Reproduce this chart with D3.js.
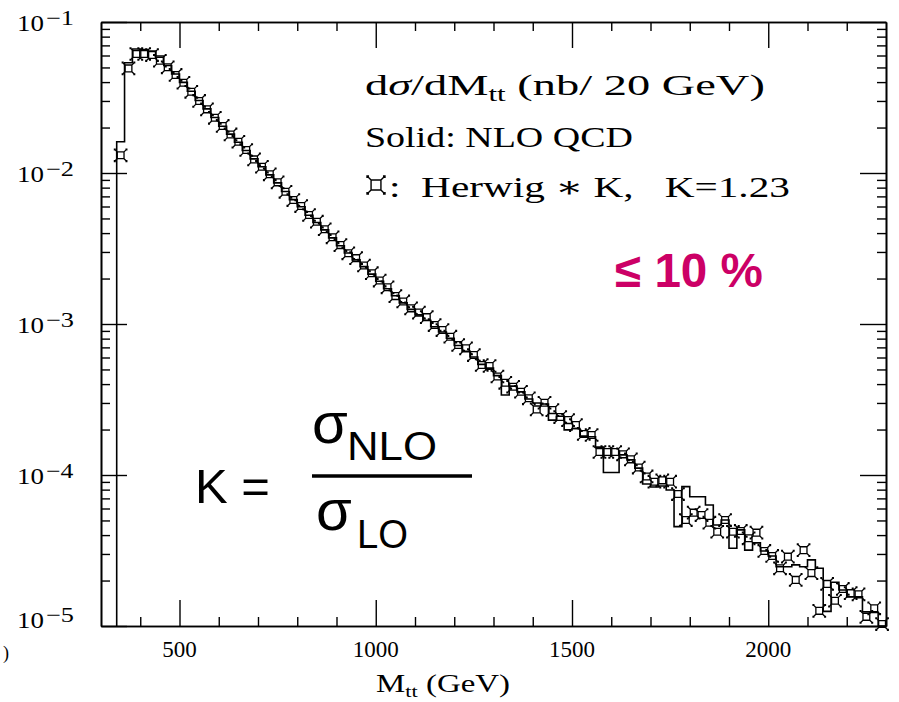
<!DOCTYPE html>
<html>
<head>
<meta charset="utf-8">
<script src="https://cdn.jsdelivr.net/npm/d3@7"></script>
<style>
  body { margin: 0; background: #fff; }
  svg { display: block; }
  .serif { font-family: "Liberation Serif", "DejaVu Serif", serif; fill: #000; }
  .sans { font-family: "Liberation Sans", Arial, sans-serif; }
</style>
</head>
<body>
<script>
// ---- data (dsigma/dM_tt in nb / 20 GeV, 20 GeV bins from 340 GeV) ----
var binStart = 340;
var binWidth = 20;

// histogram: NLO QCD (solid line)
var nloQCD = [
  1.61e-2, 5.37e-2, 6.62e-2, 6.58e-2, 6.43e-2, 5.96e-2, 5.15e-2, 4.52e-2, 3.98e-2, 3.48e-2,
  3.02e-2, 2.66e-2, 2.33e-2, 2.04e-2, 1.81e-2, 1.60e-2, 1.41e-2, 1.24e-2, 1.10e-2, 9.72e-3,
  8.60e-3, 7.55e-3, 6.66e-3, 5.98e-3, 5.25e-3, 4.70e-3, 4.20e-3, 3.72e-3, 3.30e-3, 2.95e-3,
  2.66e-3, 2.40e-3, 2.14e-3, 1.92e-3, 1.71e-3, 1.54e-3, 1.38e-3, 1.25e-3, 1.15e-3, 1.06e-3,
  9.60e-4, 8.85e-4, 8.05e-4, 7.20e-4, 6.60e-4, 6.05e-4, 5.40e-4, 5.10e-4, 4.55e-4, 3.39e-4,
  3.88e-4, 3.55e-4, 3.19e-4, 3.00e-4, 2.95e-4, 2.31e-4, 2.45e-4, 1.99e-4, 2.03e-4, 1.81e-4,
  1.79e-4, 1.53e-4, 1.04e-4, 1.04e-4, 1.36e-4, 1.26e-4, 1.11e-4, 8.71e-5, 8.32e-5, 8.45e-5,
  7.96e-5, 4.55e-5, 8.38e-5, 7.18e-5, 7.18e-5, 6.33e-5, 4.67e-5, 5.03e-5, 3.27e-5, 4.33e-5,
  3.18e-5, 3.55e-5, 3.14e-5, 2.91e-5, 2.47e-5, 2.47e-5, 2.54e-5, 2.47e-5, 2.74e-5, 2.41e-5,
  1.25e-5, 1.95e-5, 1.73e-5, 1.56e-5, 1.56e-5, 1.24e-5, 1.23e-5, 1.00e-5
];

// markers: Herwig * K
var herwigK = [
  1.31e-2, 4.93e-2, 6.14e-2, 6.14e-2, 6.04e-2, 5.54e-2, 5.01e-2, 4.46e-2, 3.96e-2, 3.45e-2,
  3.00e-2, 2.64e-2, 2.32e-2, 2.05e-2, 1.80e-2, 1.61e-2, 1.42e-2, 1.23e-2, 1.10e-2, 9.80e-3,
  8.67e-3, 7.51e-3, 6.62e-3, 6.04e-3, 5.27e-3, 4.76e-3, 4.24e-3, 3.75e-3, 3.33e-3, 2.94e-3,
  2.73e-3, 2.44e-3, 2.17e-3, 1.94e-3, 1.75e-3, 1.53e-3, 1.41e-3, 1.27e-3, 1.19e-3, 1.11e-3,
  9.84e-4, 9.12e-4, 8.24e-4, 7.26e-4, 6.90e-4, 6.23e-4, 5.35e-4, 5.27e-4, 4.49e-4, 4.08e-4,
  3.84e-4, 3.56e-4, 3.22e-4, 2.72e-4, 3.01e-4, 2.69e-4, 2.42e-4, 2.31e-4, 2.14e-4, 1.87e-4,
  1.84e-4, 1.42e-4, 1.42e-4, 1.42e-4, 1.37e-4, 1.27e-4, 1.12e-4, 9.78e-5, 9.03e-5, 9.22e-5,
  9.03e-5, 7.48e-5, 5.03e-5, 5.63e-5, 5.43e-5, 4.83e-5, 4.21e-5, 5.03e-5, 4.21e-5, 4.26e-5,
  3.81e-5, 4.15e-5, 3.14e-5, 2.91e-5, 2.41e-5, 2.88e-5, 2.02e-5, 3.18e-5, 2.24e-5, 1.26e-5,
  1.90e-5, 1.47e-5, 1.76e-5, 1.65e-5, 1.62e-5, 1.15e-5, 1.31e-5, 1.03e-5
];

var xMajorTicks = [500, 1000, 1500, 2000];
var yExponents = [-5, -4, -3, -2, -1];

// ---- layout ----
var svgWidth = 899;
var svgHeight = 702;
var plot = { left: 101, right: 886, top: 22, bottom: 626 };

var svg = d3.select("body").append("svg")
  .attr("width", svgWidth)
  .attr("height", svgHeight);

svg.append("rect").attr("width", svgWidth).attr("height", svgHeight).attr("fill", "#fff");

var x = d3.scaleLinear().domain([300, 2300]).range([plot.left, plot.right]);
var y = d3.scaleLog().domain([1e-5, 1e-1]).range([plot.bottom, plot.top]);

// tick values
var xMinorTicks = d3.range(400, 2300, 100).filter(d => d % 500 !== 0);
var yMajorTicks = yExponents.map(e => Math.pow(10, e));
var yMinorTicks = [];
yMajorTicks.slice(0, 4).forEach(function(d) {
  for (var m = 2; m <= 9; m++) yMinorTicks.push(m * d);
});

function styleAxis(g) {
  g.select(".domain").attr("stroke", "#000").attr("stroke-width", 1.6);
  g.selectAll(".tick line").attr("stroke", "#000").attr("stroke-width", 1.4);
  g.selectAll(".tick text").remove();
}

// bottom / top axes (ticks point inwards)
[[d3.axisBottom, plot.bottom], [d3.axisTop, plot.top]].forEach(function(a) {
  svg.append("g").attr("transform", `translate(0,${a[1]})`)
    .call(a[0](x).tickValues(xMajorTicks).tickSize(-26).tickSizeOuter(0).tickFormat(""))
    .call(styleAxis);
  svg.append("g").attr("transform", `translate(0,${a[1]})`)
    .call(a[0](x).tickValues(xMinorTicks).tickSize(-9).tickSizeOuter(0).tickFormat(""))
    .call(styleAxis);
});

// left / right axes
[[d3.axisLeft, plot.left], [d3.axisRight, plot.right]].forEach(function(a) {
  svg.append("g").attr("transform", `translate(${a[1]},0)`)
    .call(a[0](y).tickValues(yMajorTicks).tickSize(-26).tickSizeOuter(0).tickFormat(""))
    .call(styleAxis);
  svg.append("g").attr("transform", `translate(${a[1]},0)`)
    .call(a[0](y).tickValues(yMinorTicks).tickSize(-9).tickSizeOuter(0).tickFormat(""))
    .call(styleAxis);
});

// stretch a text element horizontally so it spans a given width
function fitText(t, x0, width) {
  var w = t.node().getBBox().width;
  t.attr("transform", `translate(${x0},0) scale(${width / w},1)`);
  return t;
}

// x tick labels
svg.selectAll(".xlab")
  .data(xMajorTicks)
  .enter()
  .append("text")
  .attr("class", "serif xlab")
  .attr("x", d => x(d))
  .attr("y", plot.bottom + 31)
  .attr("text-anchor", "middle")
  .attr("font-size", 23)
  .text(d => d);

// y tick labels 10^n
yExponents.forEach(function(e, i) {
  var base = y(Math.pow(10, e)) + (i === 0 ? 2 : 9);
  var t1 = svg.append("text").attr("class", "serif").attr("font-size", 23)
    .attr("x", 0).attr("y", base).text("10");
  fitText(t1, 17, 27);
  var t2 = svg.append("text").attr("class", "serif").attr("font-size", 21)
    .attr("x", 0).attr("y", base - 6).text("\u2212" + (-e));
  fitText(t2, 46, 28);
});

// x axis title
var xt = svg.append("text").attr("class", "serif").attr("font-size", 25)
  .attr("x", 0).attr("y", 692);
xt.append("tspan").text("M");
xt.append("tspan").attr("font-size", 17).attr("dy", 5).text("tt");
xt.append("tspan").attr("dy", -5).text(" (GeV)");
fitText(xt, 376, 134);

// clipped remnant of the y axis title
svg.append("text").attr("class", "serif").attr("font-size", 18)
  .attr("x", 3).attr("y", 659).text(")");

// ---- NLO histogram ----
var stepPts = [[binStart, 1e-5]];
nloQCD.forEach(function(v, i) {
  var lo = binStart + i * binWidth;
  stepPts.push([lo, v], [lo + binWidth, v]);
});

var line = d3.line()
  .x(d => x(d[0]))
  .y(d => y(Math.max(d[1], 1e-5)));

svg.append("path")
  .datum(stepPts)
  .attr("d", line)
  .attr("fill", "none")
  .attr("stroke", "#000")
  .attr("stroke-width", 1.6);

// ---- Herwig markers ----
function markerPath(s) {
  var h = 3.4 * s, k = 6.2 * s, c = 1.4 * s;
  var p = `M${-h},${-h}H${h}V${h}H${-h}Z`;
  [[-1, -1], [1, -1], [1, 1], [-1, 1]].forEach(function(q) {
    p += `M${q[0] * h},${q[1] * h}L${q[0] * k},${q[1] * k}`;
    p += `M${q[0] * k},${q[1] * (k - c)}V${q[1] * k}H${q[0] * (k - c)}`;
  });
  return p;
}

svg.selectAll(".herwig")
  .data(herwigK)
  .enter()
  .append("path")
  .attr("class", "herwig")
  .attr("transform", (d, i) => `translate(${x(binStart + binWidth * (i + 0.5))},${y(d)})`)
  .attr("d", markerPath(1))
  .attr("fill", "none")
  .attr("stroke", "#000")
  .attr("stroke-width", 1.3);

// ---- annotation text ----
var l1 = svg.append("text").attr("class", "serif").attr("font-size", 30)
  .attr("x", 0).attr("y", 95);
l1.append("tspan").text("d");
l1.append("tspan").attr("font-style", "italic").text("\u03c3");
l1.append("tspan").text("/dM");
l1.append("tspan").attr("font-size", 20).attr("dy", 6).text("tt");
l1.append("tspan").attr("dy", -6).text(" (nb/ 20 GeV)");
fitText(l1, 365, 400);

var l2 = svg.append("text").attr("class", "serif").attr("font-size", 30)
  .attr("x", 0).attr("y", 147).text("Solid: NLO QCD");
fitText(l2, 365, 268);

svg.append("path")
  .attr("transform", "translate(376,185)")
  .attr("d", markerPath(1.45))
  .attr("fill", "none")
  .attr("stroke", "#000")
  .attr("stroke-width", 1.4);

var l3 = svg.append("text").attr("class", "serif").attr("font-size", 30)
  .attr("x", 0).attr("y", 197).style("white-space", "pre")
  .text(":  Herwig \u2217 K,   K=1.23");
fitText(l3, 389, 401);

var pct = svg.append("text").attr("class", "sans").attr("font-size", 48)
  .attr("font-weight", "bold").attr("fill", "#cc0066")
  .attr("x", 0).attr("y", 287).style("white-space", "pre").text("\u2264 10 %");
fitText(pct, 615, 148);

// K = sigma_NLO / sigma_LO
var kEq = svg.append("text").attr("class", "sans").attr("font-size", 48).attr("fill", "#000")
  .attr("x", 0).attr("y", 503).style("white-space", "pre").text("K =");
fitText(kEq, 195, 75);

svg.append("text").attr("class", "sans").attr("font-size", 58).attr("fill", "#000")
  .attr("x", 312).attr("y", 443).text("\u03c3");
var nlo = svg.append("text").attr("class", "sans").attr("font-size", 40).attr("fill", "#000")
  .attr("x", 0).attr("y", 460).text("NLO");
fitText(nlo, 347, 90);

svg.append("line")
  .attr("x1", 312).attr("x2", 472).attr("y1", 476).attr("y2", 476)
  .attr("stroke", "#000").attr("stroke-width", 3.5);

svg.append("text").attr("class", "sans").attr("font-size", 58).attr("fill", "#000")
  .attr("x", 316).attr("y", 530).text("\u03c3");
var lo = svg.append("text").attr("class", "sans").attr("font-size", 40).attr("fill", "#000")
  .attr("x", 0).attr("y", 548).text("LO");
fitText(lo, 357, 51);
</script>
</body>
</html>
